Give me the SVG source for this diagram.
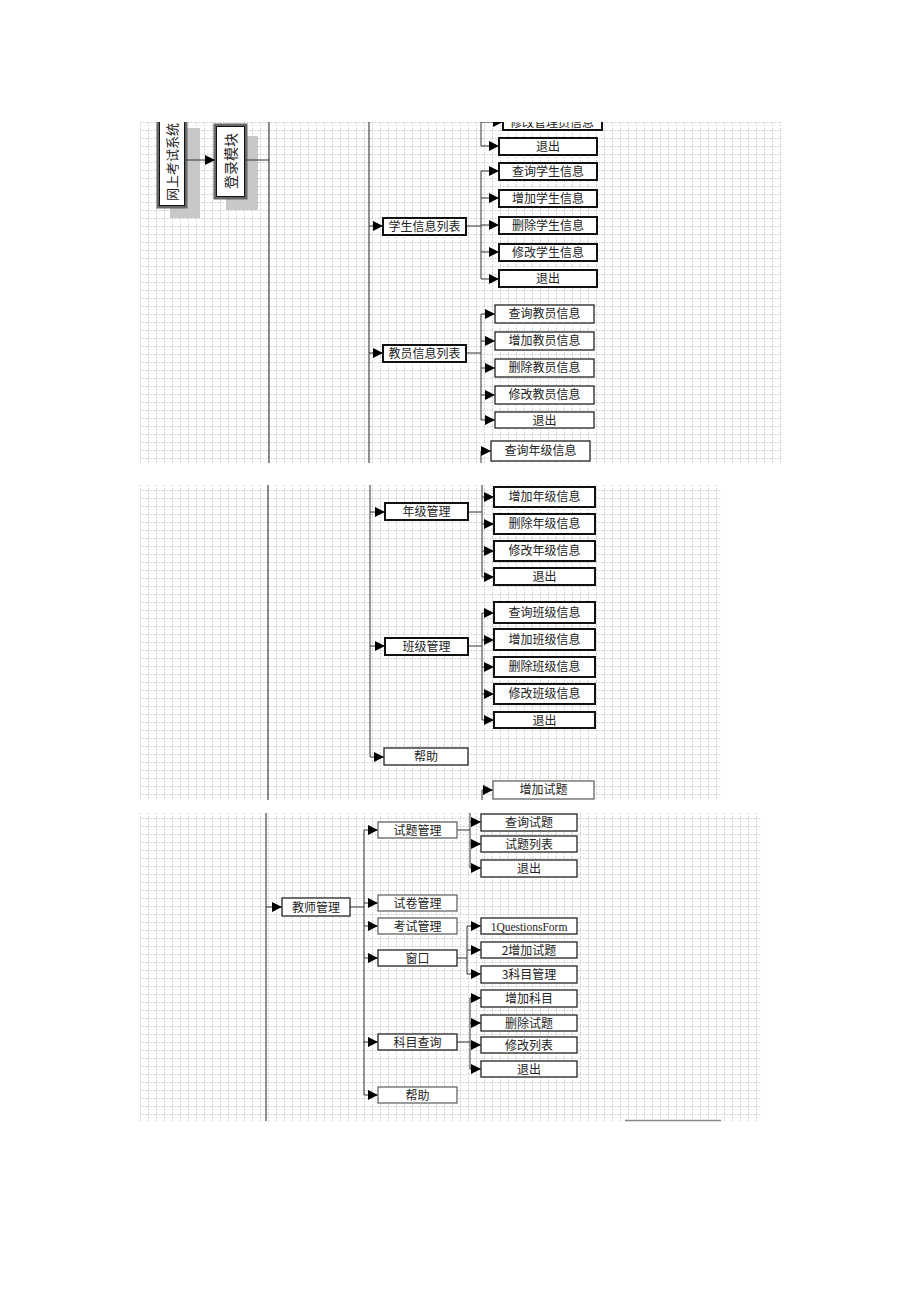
<svg xmlns="http://www.w3.org/2000/svg" width="920" height="1302" viewBox="0 0 920 1302">
<style>
.t{font-family:"Noto Sans CJK SC","Liberation Sans",sans-serif;font-size:12px;fill:#222;text-anchor:middle}
.b{fill:#fff;stroke:#222;stroke-width:1.3}
.bt{fill:#fff;stroke:#111;stroke-width:2}
.bg{fill:#fff;stroke:#666;stroke-width:1.3}
.ln{fill:none;stroke:#333;stroke-width:1}
.ar{fill:none;stroke:#333;stroke-width:1;marker-end:url(#ah)}
.vl{stroke:#444;stroke-width:1.2}
.sh{fill:#c8c8c8}
</style>
<defs>
<marker id="ah" viewBox="0 0 10 10" refX="10" refY="5" markerWidth="10" markerHeight="10" markerUnits="userSpaceOnUse" orient="auto">
<path d="M0,0 L10,5 L0,10 Z" fill="#000"/>
</marker>
<pattern id="grid" width="8" height="8" patternUnits="userSpaceOnUse" x="140" y="122">
<path d="M0,0.5 H8 M0.5,0 V8" stroke="#cdcdcd" stroke-width="1" stroke-dasharray="1.5 1.5" fill="none"/>
</pattern>
<clipPath id="c1"><rect x="140" y="122" width="641" height="341"/></clipPath>
<clipPath id="c2"><rect x="140" y="485" width="581" height="315"/></clipPath>
<clipPath id="c3"><rect x="140" y="813" width="622" height="308"/></clipPath>
</defs>
<rect width="920" height="1302" fill="#fff"/>

<!-- Panel 1 -->
<g id="panel1" clip-path="url(#c1)">
<rect x="140" y="122" width="641" height="341" fill="url(#grid)"/>
<g id="n-system">
<rect class="sh" x="170" y="128" width="30" height="90"/>
<rect x="158" y="110" width="28" height="97" fill="#fff" stroke="#666" stroke-width="3"/>
<rect x="159.5" y="111" width="25" height="94.5" fill="none" stroke="#111" stroke-width="1"/>
<text class="t" transform="translate(177,162) rotate(-90)" style="font-size:13px">网上考试系统</text>
</g>
<g id="n-login">
<rect class="sh" x="226" y="136" width="32" height="74"/>
<rect x="215" y="125" width="31" height="73" fill="#fff" stroke="#666" stroke-width="3"/>
<rect x="216.5" y="126.5" width="28" height="70" fill="none" stroke="#111" stroke-width="1"/>
<text class="t" transform="translate(235.5,161) rotate(-90)" style="font-size:14px">登录模块</text>
</g>
<g id="connectors1">
<line class="vl" x1="269" y1="122" x2="269" y2="463"/>
<line class="vl" x1="369" y1="122" x2="369" y2="463"/>
<line class="ar" x1="186" y1="160" x2="215" y2="160"/>
<polyline class="ln" points="246,160 269,160"/>
<polyline class="ln" points="481,110 481,146"/>
<line class="ar" x1="481" y1="122" x2="503" y2="122"/>
<line class="ar" x1="481" y1="146" x2="499" y2="146"/>
<line class="ar" x1="369" y1="226" x2="383" y2="226"/>
<polyline class="ln" points="466,226 481,226"/>
<polyline class="ln" points="481,171 481,279"/>
<line class="ar" x1="481" y1="171" x2="499" y2="171"/>
<line class="ar" x1="481" y1="198" x2="499" y2="198"/>
<line class="ar" x1="481" y1="225" x2="499" y2="225"/>
<line class="ar" x1="481" y1="252" x2="499" y2="252"/>
<line class="ar" x1="481" y1="279" x2="499" y2="279"/>
<line class="ar" x1="369" y1="353" x2="383" y2="353"/>
<polyline class="ln" points="466,353 481,353"/>
<polyline class="ln" points="481,314 481,420"/>
<line class="ar" x1="481" y1="314" x2="495" y2="314"/>
<line class="ar" x1="481" y1="341" x2="495" y2="341"/>
<line class="ar" x1="481" y1="368" x2="495" y2="368"/>
<line class="ar" x1="481" y1="395" x2="495" y2="395"/>
<line class="ar" x1="481" y1="420" x2="495" y2="420"/>
<polyline class="ln" points="481,463 481,451"/>
<line class="ar" x1="481" y1="451" x2="491" y2="451"/>
</g>
<g id="n-admin-mod"><rect class="bt" x="503" y="105" width="99" height="25"/><text class="t" x="552" y="127">修改管理员信息</text></g>
<g id="n-admin-exit"><rect class="bt" x="499" y="138" width="98" height="17"/><text class="t" x="548" y="151">退出</text></g>
<g id="n-stu"><rect class="bt" x="383" y="218" width="83" height="17"/><text class="t" x="424.5" y="231">学生信息列表</text></g>
<g id="n-stu-q"><rect class="bt" x="499" y="163" width="98" height="17"/><text class="t" x="548" y="176">查询学生信息</text></g>
<g id="n-stu-a"><rect class="bt" x="499" y="190" width="98" height="17"/><text class="t" x="548" y="203">增加学生信息</text></g>
<g id="n-stu-d"><rect class="bt" x="499" y="217" width="98" height="17"/><text class="t" x="548" y="230">删除学生信息</text></g>
<g id="n-stu-m"><rect class="bt" x="499" y="244" width="98" height="17"/><text class="t" x="548" y="257">修改学生信息</text></g>
<g id="n-stu-e"><rect class="bt" x="499" y="270" width="98" height="17"/><text class="t" x="548" y="283">退出</text></g>
<g id="n-tea"><rect class="bt" x="383" y="345" width="83" height="17"/><text class="t" x="424.5" y="358">教员信息列表</text></g>
<g id="n-tea-q"><rect class="b" x="495" y="305" width="99" height="18"/><text class="t" x="544.5" y="318">查询教员信息</text></g>
<g id="n-tea-a"><rect class="b" x="495" y="332" width="99" height="18"/><text class="t" x="544.5" y="345">增加教员信息</text></g>
<g id="n-tea-d"><rect class="b" x="495" y="359" width="99" height="18"/><text class="t" x="544.5" y="372">删除教员信息</text></g>
<g id="n-tea-m"><rect class="b" x="495" y="386" width="99" height="18"/><text class="t" x="544.5" y="399">修改教员信息</text></g>
<g id="n-tea-e"><rect class="b" x="495" y="412" width="99" height="16"/><text class="t" x="544.5" y="424.5">退出</text></g>
<g id="n-grade-q"><rect class="b" x="491" y="441" width="99" height="20"/><text class="t" x="540.5" y="455">查询年级信息</text></g>
</g>

<!-- Panel 2 -->
<g id="panel2" clip-path="url(#c2)">
<rect x="140" y="485" width="581" height="315" fill="url(#grid)"/>
<g id="connectors2">
<line class="vl" x1="268" y1="485" x2="268" y2="800"/>
<polyline class="ln" points="370,485 370,757"/>
<line class="ar" x1="370" y1="512" x2="385" y2="512"/>
<polyline class="ln" points="468,512 482,512"/>
<polyline class="ln" points="482,485 482,577"/>
<line class="ar" x1="482" y1="497" x2="494" y2="497"/>
<line class="ar" x1="482" y1="524" x2="494" y2="524"/>
<line class="ar" x1="482" y1="551" x2="494" y2="551"/>
<line class="ar" x1="482" y1="577" x2="494" y2="577"/>
<line class="ar" x1="370" y1="646" x2="385" y2="646"/>
<polyline class="ln" points="468,646 482,646"/>
<polyline class="ln" points="482,613 482,720"/>
<line class="ar" x1="482" y1="613" x2="494" y2="613"/>
<line class="ar" x1="482" y1="640" x2="494" y2="640"/>
<line class="ar" x1="482" y1="667" x2="494" y2="667"/>
<line class="ar" x1="482" y1="694" x2="494" y2="694"/>
<line class="ar" x1="482" y1="720" x2="494" y2="720"/>
<line class="ar" x1="370" y1="757" x2="384" y2="757"/>
<polyline class="ln" points="482,800 482,790"/>
<line class="ar" x1="482" y1="790" x2="493" y2="790"/>
</g>
<g id="n-grade"><rect class="bt" x="385" y="503" width="83" height="17"/><text class="t" x="426.5" y="516">年级管理</text></g>
<g id="n-grade-a"><rect class="bt" x="494" y="487" width="101" height="20"/><text class="t" x="544.5" y="501">增加年级信息</text></g>
<g id="n-grade-d"><rect class="bt" x="494" y="514" width="101" height="20"/><text class="t" x="544.5" y="528">删除年级信息</text></g>
<g id="n-grade-m"><rect class="bt" x="494" y="541" width="101" height="20"/><text class="t" x="544.5" y="555">修改年级信息</text></g>
<g id="n-grade-e"><rect class="bt" x="494" y="568" width="101" height="17"/><text class="t" x="544.5" y="581">退出</text></g>
<g id="n-class"><rect class="bt" x="385" y="638" width="83" height="17"/><text class="t" x="426.5" y="651">班级管理</text></g>
<g id="n-class-q"><rect class="bt" x="494" y="602" width="101" height="21"/><text class="t" x="544.5" y="617">查询班级信息</text></g>
<g id="n-class-a"><rect class="bt" x="494" y="629" width="101" height="21"/><text class="t" x="544.5" y="644">增加班级信息</text></g>
<g id="n-class-d"><rect class="bt" x="494" y="657" width="101" height="20"/><text class="t" x="544.5" y="671">删除班级信息</text></g>
<g id="n-class-m"><rect class="bt" x="494" y="684" width="101" height="20"/><text class="t" x="544.5" y="698">修改班级信息</text></g>
<g id="n-class-e"><rect class="bt" x="494" y="712" width="101" height="16"/><text class="t" x="544.5" y="724.5">退出</text></g>
<g id="n-help1"><rect class="b" x="384" y="748" width="84" height="17"/><text class="t" x="426" y="761">帮助</text></g>
<g id="n-addq"><rect class="bg" x="493" y="781" width="101" height="18"/><text class="t" x="543.5" y="794">增加试题</text></g>
</g>

<!-- Panel 3 -->
<g id="panel3" clip-path="url(#c3)">
<rect x="140" y="813" width="622" height="308" fill="url(#grid)"/>
<g id="connectors3">
<line class="vl" x1="266" y1="813" x2="266" y2="1121"/>
<line class="ar" x1="266" y1="907" x2="282" y2="907"/>
<polyline class="ln" points="350,907 364,907"/>
<polyline class="ln" points="364,830 364,1095"/>
<line class="ar" x1="364" y1="830" x2="378" y2="830"/>
<line class="ar" x1="364" y1="903" x2="378" y2="903"/>
<line class="ar" x1="364" y1="926" x2="378" y2="926"/>
<line class="ar" x1="364" y1="958" x2="378" y2="958"/>
<line class="ar" x1="364" y1="1042" x2="378" y2="1042"/>
<line class="ar" x1="364" y1="1095" x2="378" y2="1095"/>
<polyline class="ln" points="457,830 470,830"/>
<polyline class="ln" points="470,813 470,868"/>
<line class="ar" x1="470" y1="822" x2="481" y2="822"/>
<line class="ar" x1="470" y1="844" x2="481" y2="844"/>
<line class="ar" x1="470" y1="868" x2="481" y2="868"/>
<polyline class="ln" points="457,958 467,958"/>
<polyline class="ln" points="467,926 467,974"/>
<line class="ar" x1="467" y1="926" x2="481" y2="926"/>
<line class="ar" x1="467" y1="950" x2="481" y2="950"/>
<line class="ar" x1="467" y1="974" x2="481" y2="974"/>
<polyline class="ln" points="457,1042 470,1042"/>
<polyline class="ln" points="470,998 470,1069"/>
<line class="ar" x1="470" y1="998" x2="481" y2="998"/>
<line class="ar" x1="470" y1="1023" x2="481" y2="1023"/>
<line class="ar" x1="470" y1="1045" x2="481" y2="1045"/>
<line class="ar" x1="470" y1="1069" x2="481" y2="1069"/>
</g>
<g id="n-teacher"><rect class="b" x="282" y="898" width="68" height="18"/><text class="t" x="316" y="911.5">教师管理</text></g>
<g id="n-qm"><rect class="bg" x="378" y="822" width="79" height="16"/><text class="t" x="417.5" y="834.5">试题管理</text></g>
<g id="n-pm"><rect class="bg" x="378" y="895" width="79" height="16"/><text class="t" x="417.5" y="907.5">试卷管理</text></g>
<g id="n-em"><rect class="bg" x="378" y="918" width="79" height="16"/><text class="t" x="417.5" y="930.5">考试管理</text></g>
<g id="n-win"><rect class="b" x="378" y="950" width="79" height="16"/><text class="t" x="417.5" y="962.5">窗口</text></g>
<g id="n-sq"><rect class="b" x="378" y="1034" width="79" height="16"/><text class="t" x="417.5" y="1046.5">科目查询</text></g>
<g id="n-help2"><rect class="bg" x="378" y="1087" width="79" height="16"/><text class="t" x="417.5" y="1099.5">帮助</text></g>
<g id="n-qm-q"><rect class="b" x="481" y="814" width="96" height="17"/><text class="t" x="529" y="827">查询试题</text></g>
<g id="n-qm-l"><rect class="b" x="481" y="836" width="96" height="16"/><text class="t" x="529" y="848.5">试题列表</text></g>
<g id="n-qm-e"><rect class="b" x="481" y="860" width="96" height="17"/><text class="t" x="529" y="873">退出</text></g>
<g id="n-w1"><rect class="b" x="481" y="918" width="96" height="16"/><text class="t" x="529" y="930.5" style="font-family:'Liberation Serif',serif;font-size:11.5px">1QuestionsForm</text></g>
<g id="n-w2"><rect class="b" x="481" y="942" width="96" height="16"/><text class="t" x="529" y="954.5">2增加试题</text></g>
<g id="n-w3"><rect class="b" x="481" y="966" width="96" height="17"/><text class="t" x="529" y="979">3科目管理</text></g>
<g id="n-s1"><rect class="b" x="481" y="990" width="96" height="17"/><text class="t" x="529" y="1003">增加科目</text></g>
<g id="n-s2"><rect class="b" x="481" y="1015" width="96" height="16"/><text class="t" x="529" y="1027.5">删除试题</text></g>
<g id="n-s3"><rect class="b" x="481" y="1037" width="96" height="16"/><text class="t" x="529" y="1049.5">修改列表</text></g>
<g id="n-s4"><rect class="b" x="481" y="1061" width="96" height="16"/><text class="t" x="529" y="1073.5">退出</text></g>
</g>
<line x1="625" y1="1120.5" x2="721" y2="1120.5" stroke="#888" stroke-width="1.5"/>
</svg>
